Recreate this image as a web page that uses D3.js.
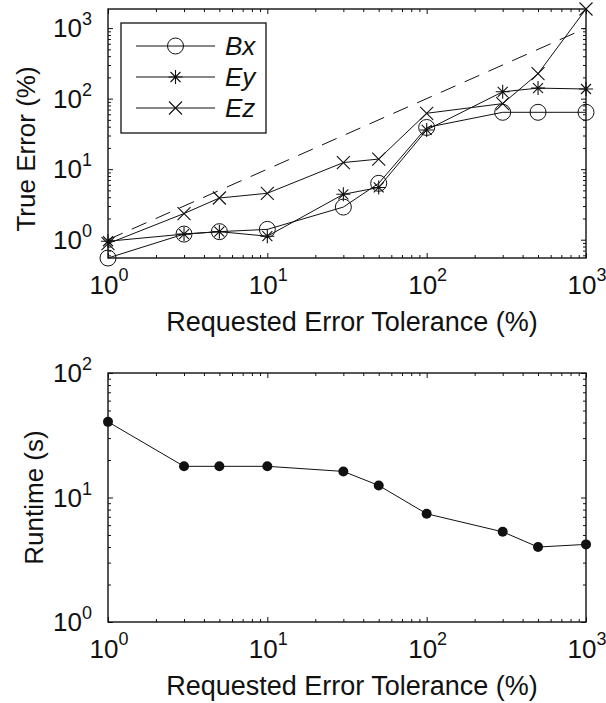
<!DOCTYPE html>
<html><head><meta charset="utf-8">
<script src="https://cdn.jsdelivr.net/npm/d3@7"></script>
<style>
html,body{margin:0;padding:0;background:#fff;}
text{font-family:"Liberation Sans",Arial,Helvetica,sans-serif;fill:#111;}
</style></head><body>
<svg id="c" width="606" height="703"></svg>
<script>
// ---- data ----
const tolerance = [1, 3, 5, 10, 30, 50, 100, 300, 500, 1000];
const bxErr = [0.55, 1.2, 1.3, 1.4, 2.9, 6.3, 39, 64, 64, 64];
const eyErr = [0.95, 1.2, 1.3, 1.12, 4.4, 5.5, 36, 125, 141, 137];
const ezErr = [0.88, 2.35, 3.9, 4.55, 12.4, 13.9, 62, 85, 226, 1866];
const refLine = [1, 1000];
const runtime = [40.5, 17.8, 17.8, 17.8, 16.2, 12.5, 7.4, 5.3, 4.0, 4.2];
const xTickExp = [0, 1, 2, 3];
const yTickExpTop = [0, 1, 2, 3];
const yTickExpBottom = [0, 1, 2];
const seriesNames = ["Bx", "Ey", "Ez"];
const xTitle = "Requested Error Tolerance (%)";
const yTitleTop = "True Error (%)";
const yTitleBottom = "Runtime (s)";

const svg = d3.select("#c");
const L = 108, R = 586;

function minorTicks(lo, hi) {
  const out = [];
  for (let e = Math.floor(Math.log10(lo)); e <= Math.ceil(Math.log10(hi)); e++) {
    for (let m = 2; m <= 9; m++) {
      const v = m * Math.pow(10, e);
      if (v > lo * 1.0001 && v < hi * 0.9999) out.push(v);
    }
  }
  return out;
}

function drawAxes(g, x, y, top, bottom, xExps, yExps, yTitle, yTitleX, yTitleY) {
  const xd = x.domain(), yd = y.domain();
  const xMaj = xExps.map(e => Math.pow(10, e));
  const yMaj = yExps.map(e => Math.pow(10, e)).filter(v => v >= yd[0] * 0.999 && v <= yd[1] * 1.001);
  const xMin = minorTicks(xd[0], xd[1]);
  const yMin = minorTicks(yd[0], yd[1]);
  const tickStyle = sel => { sel.select(".domain").remove(); sel.selectAll("line").attr("stroke", "#111").attr("stroke-width", 1); };
  g.append("g").attr("transform", `translate(0,${bottom})`).call(d3.axisBottom(x).tickValues(xMaj).tickSize(-5).tickFormat("")).call(tickStyle);
  g.append("g").attr("transform", `translate(0,${bottom})`).call(d3.axisBottom(x).tickValues(xMin).tickSize(-3).tickFormat("")).call(tickStyle);
  g.append("g").attr("transform", `translate(0,${top})`).call(d3.axisTop(x).tickValues(xMaj).tickSize(-5).tickFormat("")).call(tickStyle);
  g.append("g").attr("transform", `translate(0,${top})`).call(d3.axisTop(x).tickValues(xMin).tickSize(-3).tickFormat("")).call(tickStyle);
  g.append("g").attr("transform", `translate(${L},0)`).call(d3.axisLeft(y).tickValues(yMaj).tickSize(-5).tickFormat("")).call(tickStyle);
  g.append("g").attr("transform", `translate(${L},0)`).call(d3.axisLeft(y).tickValues(yMin).tickSize(-3).tickFormat("")).call(tickStyle);
  g.append("g").attr("transform", `translate(${R},0)`).call(d3.axisRight(y).tickValues(yMaj).tickSize(-5).tickFormat("")).call(tickStyle);
  g.append("g").attr("transform", `translate(${R},0)`).call(d3.axisRight(y).tickValues(yMin).tickSize(-3).tickFormat("")).call(tickStyle);
  g.append("rect").attr("x", L).attr("y", top).attr("width", R - L).attr("height", bottom - top)
    .attr("fill", "none").attr("stroke", "#111").attr("stroke-width", 1.4);
  xExps.forEach(e => {
    const t = g.append("text").attr("x", x(Math.pow(10, e)) + 1).attr("y", bottom + 36)
      .attr("text-anchor", "middle").attr("font-size", 26);
    t.append("tspan").text("10");
    t.append("tspan").attr("font-size", 18).attr("dy", -13).text(String(e));
  });
  yExps.forEach(e => {
    const v = Math.pow(10, e);
    if (v < yd[0] * 0.999 || v > yd[1] * 1.001) return;
    const t = g.append("text").attr("x", 92).attr("y", y(v) + 9)
      .attr("text-anchor", "end").attr("font-size", 26);
    t.append("tspan").text("10");
    t.append("tspan").attr("font-size", 18).attr("dy", -12).text(String(e));
  });
  g.append("text").attr("x", 352).attr("y", bottom + 73).attr("text-anchor", "middle")
    .attr("font-size", 27).text(xTitle);
  g.append("text").attr("transform", `translate(${yTitleX},${yTitleY}) rotate(-90)`)
    .attr("text-anchor", "middle").attr("font-size", 26).text(yTitle);
}

function markerPath(kind) {
  if (kind === "star") {
    const s = 7, d = 5;
    return `M0,${-s}L0,${s}M${-s},0L${s},0M${-d},${-d}L${d},${d}M${-d},${d}L${d},${-d}`;
  }
  if (kind === "x") { const s = 6.5; return `M${-s},${-s}L${s},${s}M${-s},${s}L${s},${-s}`; }
  return null;
}
function drawMarker(g, kind, cx, cy) {
  if (kind === "circle") {
    g.append("circle").attr("cx", cx).attr("cy", cy).attr("r", 8).attr("fill", "none").attr("stroke", "#111").attr("stroke-width", 1);
  } else if (kind === "dot") {
    g.append("circle").attr("cx", cx).attr("cy", cy).attr("r", 5).attr("fill", "#111");
  } else {
    g.append("path").attr("transform", `translate(${cx},${cy})`).attr("d", markerPath(kind)).attr("fill", "none").attr("stroke", "#111").attr("stroke-width", 1.1);
  }
}

// ---- top plot ----
{
  const top = 9, bottom = 258;
  const all = bxErr.concat(eyErr, ezErr);
  const x = d3.scaleLog().domain([1, 1000]).range([L, R]);
  const y = d3.scaleLog().domain(d3.extent(all)).range([bottom, top]);
  const g = svg.append("g");
  drawAxes(g, x, y, top, bottom, xTickExp, yTickExpTop, yTitleTop, 35, 149);
  const line = d3.line().x(d => x(d[0])).y(d => y(d[1]));
  const pg = g.append("g");
  pg.append("path").datum(refLine.map(v => [v, v])).attr("d", line)
    .attr("fill", "none").attr("stroke", "#111").attr("stroke-width", 1).attr("stroke-dasharray", "16,10");
  const series = [[bxErr, "circle"], [eyErr, "star"], [ezErr, "x"]];
  series.forEach(([vals, kind]) => {
    const pts = tolerance.map((t, i) => [t, vals[i]]);
    pg.append("path").datum(pts).attr("d", line).attr("fill", "none").attr("stroke", "#111").attr("stroke-width", 1);
    pts.forEach(p => drawMarker(pg, kind, x(p[0]), y(p[1])));
  });
  const lg = g.append("g");
  lg.append("rect").attr("x", 121).attr("y", 23).attr("width", 145).attr("height", 110)
    .attr("fill", "#fff").attr("stroke", "#111").attr("stroke-width", 1.3);
  const rows = [46, 77, 108];
  series.forEach(([vals, kind], i) => {
    lg.append("line").attr("x1", 136).attr("x2", 215).attr("y1", rows[i]).attr("y2", rows[i]).attr("stroke", "#111").attr("stroke-width", 1);
    drawMarker(lg, kind, 175.5, rows[i]);
    lg.append("text").attr("x", 225).attr("y", rows[i] + 9).attr("font-size", 26).attr("font-style", "italic").text(seriesNames[i]);
  });
}

// ---- bottom plot ----
{
  const top = 373, bottom = 622;
  const x = d3.scaleLog().domain([1, 1000]).range([L, R]);
  const y = d3.scaleLog().domain([1, 100]).range([bottom, top]);
  const g = svg.append("g");
  drawAxes(g, x, y, top, bottom, xTickExp, yTickExpBottom, yTitleBottom, 43, 497.5);
  const pts = tolerance.map((t, i) => [t, runtime[i]]);
  const line = d3.line().x(d => x(d[0])).y(d => y(d[1]));
  g.append("path").datum(pts).attr("d", line).attr("fill", "none").attr("stroke", "#111").attr("stroke-width", 1);
  pts.forEach(p => drawMarker(g, "dot", x(p[0]), y(p[1])));
}
</script></body></html>
